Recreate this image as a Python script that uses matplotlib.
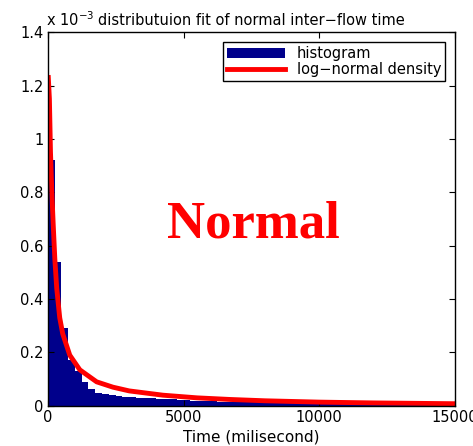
import numpy as np
import matplotlib
matplotlib.use("Agg")
from matplotlib import pyplot as plt
from matplotlib.ticker import FuncFormatter

# histogram: bin width 250 ms, heights in units of 1e-3
bin_width = 250
hist_heights = [0.92, 0.54, 0.29, 0.17, 0.13, 0.09, 0.065, 0.05, 0.045, 0.04,
                0.038, 0.035, 0.033, 0.030, 0.030, 0.028, 0.027, 0.025, 0.024, 0.022,
                0.021, 0.020, 0.019, 0.018, 0.017, 0.016, 0.016, 0.015, 0.014, 0.014,
                0.013, 0.013, 0.020, 0.012, 0.011, 0.011, 0.010, 0.010, 0.010, 0.014,
                0.009, 0.009, 0.009, 0.008, 0.008, 0.016, 0.008, 0.007, 0.007, 0.007,
                0.006, 0.006, 0.006, 0.006, 0.005, 0.005, 0.005, 0.005, 0.010, 0.005]

# log-normal density curve (ms, 1e-3)
curve_x = [20, 60, 100, 150, 200, 260, 330, 440, 550, 810, 1180, 1800, 2400,
           3000, 4240, 5500, 6700, 8000, 10000, 12000, 15000]
curve_y = [1.23, 1.15, 0.95, 0.80, 0.68, 0.55, 0.44, 0.33, 0.27, 0.19, 0.135,
           0.09, 0.07, 0.056, 0.04, 0.03, 0.024, 0.019, 0.014, 0.011, 0.008]

x_ticks = [0, 5000, 10000, 15000]
y_ticks = [0, 0.2, 0.4, 0.6, 0.8, 1.0, 1.2, 1.4]


def main():
    fig = plt.figure(figsize=(4.73, 4.46), dpi=100)
    ax = fig.add_axes([0.101, 0.090, 0.861, 0.838])

    edges = np.arange(len(hist_heights)) * bin_width
    h = ax.bar(edges, np.array(hist_heights) * 1e-3, width=bin_width, align="edge",
               color="#00008b", linewidth=0, label="histogram")
    line, = ax.plot(curve_x, np.array(curve_y) * 1e-3, color="red", lw=3.5,
                    label="log\u2212normal density")

    ax.set_xlim(0, 15000)
    ax.set_ylim(0, 1.4e-3)
    ax.set_xticks(x_ticks)
    ax.set_yticks(np.array(y_ticks) * 1e-3)
    ax.yaxis.set_major_formatter(FuncFormatter(lambda v, p: "%g" % round(v * 1e3, 2)))
    ax.tick_params(direction="in", top=True, right=True, labelsize=10.5, length=4,
                   pad=3)
    for s in ax.spines.values():
        s.set_linewidth(1.0)

    ax.set_xlabel("Time (milisecond)", fontsize=11, labelpad=3)
    ax.set_title("distributuion fit of normal inter\u2212flow time", fontsize=10.5,
                 pad=5, x=0.5)
    ax.text(-0.005, 1.008, "x 10$^{-3}$", transform=ax.transAxes, fontsize=10.5,
            ha="left", va="bottom")

    leg = ax.legend(handles=[h, line], loc="upper right", fontsize=10.5,
                    fancybox=False, edgecolor="black", framealpha=1,
                    borderpad=0.25, handlelength=4.0, labelspacing=0.1,
                    borderaxespad=0.7)
    leg.get_frame().set_linewidth(1.0)

    ax.text(0.504, 0.485, "Normal", transform=ax.transAxes, color="red",
            fontsize=38, fontweight="bold", family="Liberation Serif",
            ha="center", va="center")

    fig.savefig("out.png", dpi=100)


main()
